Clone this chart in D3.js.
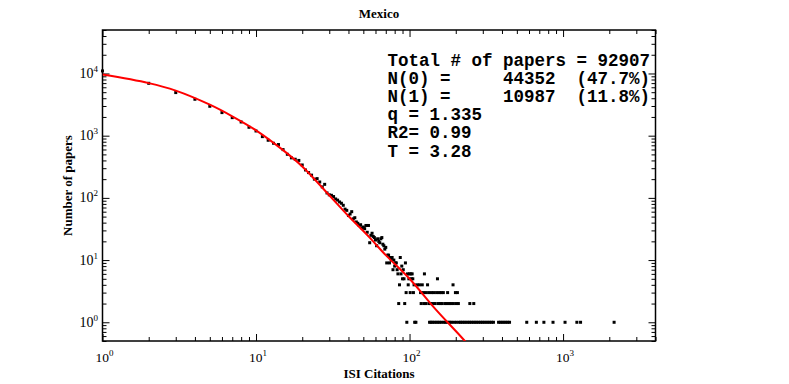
<!DOCTYPE html>
<html><head><meta charset="utf-8">
<script src="https://cdn.jsdelivr.net/npm/d3@7"></script>
<style>body{margin:0;background:#fff}</style>
</head><body>
<svg id="chart" width="789" height="384"></svg>
<script>
// ---- data ----
const title = "Mexico";
const xLabel = "ISI Citations";
const yLabel = "Number of papers";
const xTickExps = [0, 1, 2, 3];
const yTickExps = [0, 1, 2, 3, 4];

// citations 1..100 and number of papers for each
const headCitations = d3.range(1, 101);
const headPapers = [
  10987, 6950, 4930, 3850, 2970, 2350, 1950, 1660, 1365, 1190,
  966, 844, 755, 720, 597, 502, 440, 418, 400, 338,
  281, 255, 232, 200, 204, 180, 150, 165, 120, 112,
  110, 105, 96, 92, 86, 82, 76, 66, 63, 52,
  55, 60, 46, 48, 41, 39, 36, 37, 33, 34,
  32, 36, 28, 36, 19, 25, 27, 24, 23, 21,
  17, 22, 20, 19, 22, 23, 18, 17, 15, 16,
  9, 12, 12, 9, 11, 10, 11, 7, 10, 8,
  9, 9, 7, 6, 2, 4, 11, 6, 8, 5,
  7, 5, 2, 9, 3, 1, 6, 4, 5, 6
];

// tail (citations > 100): citation values per paper-count level
const tailLevels = [6, 5, 4, 3, 2, 1];
const tailCitations = [
  [102, 104, 125],
  [103, 105, 152],
  [107, 112, 116, 121, 131, 192],
  [101, 106, 118, 122, 127, 133, 139, 144, 150, 156, 161, 166, 177, 199, 205],
  [119, 124, 128, 134, 137, 142, 147, 154, 159, 163, 170, 175, 181, 186, 193, 201, 208, 247, 262],
  [108, 110, 135, 138, 141, 145, 149, 153, 157, 162, 168, 172, 178, 183, 188, 195, 202, 210, 215,
   221, 227, 233, 240, 246, 253, 260, 267, 274, 282, 290, 298, 306, 315, 324, 333, 342, 352,
   380, 390, 401, 412, 424, 436, 448, 580, 670, 750, 860, 1030, 1230, 1300, 2150]
];

// fitted curve
const fitCitations = [1, 2, 3, 5, 7, 10, 15, 20, 30, 40, 55, 70, 100, 150, 229, 260];
const fitPapers    = [9600, 7000, 5300, 3150, 2050, 1220, 585, 320, 110, 51, 23, 12, 5.0, 1.55, 0.5, 0.33];

const statsLines = [
  "Total # of papers = 92907",
  "N(0) =     44352  (47.7%)",
  "N(1) =     10987  (11.8%)",
  "q = 1.335",
  "R2= 0.99",
  "T = 3.28"
];

// ---- build ----
const points = headCitations.map((c, i) => ({c, n: headPapers[i]}));
tailLevels.forEach((lv, i) => tailCitations[i].forEach(c => points.push({c, n: lv})));
const fit = fitCitations.map((c, i) => ({c, n: fitPapers[i]}));

const L = 102.5, R = 655.5, T = 30, B = 341;
const svg = d3.select("#chart");
const x = d3.scaleLog().domain([1, 4000]).range([L, R]);
const y = d3.scaleLog().domain([0.5, 50000]).range([B, T]);

const isMajor = v => Math.abs(Math.log10(v) - Math.round(Math.log10(v))) < 1e-9;
const xMajor = xTickExps.map(e => Math.pow(10, e));
const yMajor = yTickExps.map(e => Math.pow(10, e));
const xMinor = x.ticks().filter(v => !isMajor(v));
const yMinor = y.ticks().filter(v => !isMajor(v));

function ax(gen, tr, vals, size) {
  svg.append("g").attr("transform", tr)
    .call(gen.tickValues(vals).tickSize(size).tickFormat(""))
    .call(g => g.select(".domain").remove())
    .call(g => g.selectAll("line").attr("stroke", "#000").attr("stroke-width", 1));
}
ax(d3.axisBottom(x), `translate(0,${B})`, xMajor, -7);
ax(d3.axisBottom(x), `translate(0,${B})`, xMinor, -4);
ax(d3.axisTop(x), `translate(0,${T})`, xMajor, -7);
ax(d3.axisTop(x), `translate(0,${T})`, xMinor, -4);
ax(d3.axisLeft(y), `translate(${L},0)`, yMajor, -7);
ax(d3.axisLeft(y), `translate(${L},0)`, yMinor, -4);
ax(d3.axisRight(y), `translate(${R},0)`, yMajor, -7);
ax(d3.axisRight(y), `translate(${R},0)`, yMinor, -4);

svg.append("rect").attr("x", L).attr("y", T).attr("width", R - L).attr("height", B - T)
  .attr("fill", "none").attr("stroke", "#000").attr("stroke-width", 1.5);

const serif = "'Liberation Serif','Times New Roman',serif";
// x tick labels
xTickExps.forEach((e, i) => {
  const t = svg.append("text").attr("x", x(xMajor[i]) - 7).attr("y", 362)
    .attr("font-family", serif).attr("font-size", 13.5).attr("fill", "#000");
  t.append("tspan").text("10");
  t.append("tspan").attr("dy", -6).attr("font-size", 9).text(e);
});
// y tick labels
yTickExps.forEach((e, i) => {
  const t = svg.append("text").attr("x", 79.5).attr("y", y(yMajor[i]) + 4.5)
    .attr("font-family", serif).attr("font-size", 14).attr("fill", "#000");
  t.append("tspan").text("10");
  t.append("tspan").attr("dy", -6).attr("font-size", 9).text(e);
});

svg.append("text").attr("x", 379).attr("y", 18).attr("text-anchor", "middle")
  .attr("font-family", serif).attr("font-weight", "bold").attr("font-size", 13).text(title);
svg.append("text").attr("x", 379).attr("y", 378).attr("text-anchor", "middle")
  .attr("font-family", serif).attr("font-weight", "bold").attr("font-size", 13).text(xLabel);
svg.append("text").attr("transform", "translate(72,185.5) rotate(-90)").attr("text-anchor", "middle")
  .attr("font-family", serif).attr("font-weight", "bold").attr("font-size", 13).text(yLabel);

// clip
svg.append("clipPath").attr("id", "clip").append("rect")
  .attr("x", L).attr("y", T).attr("width", R - L).attr("height", B - T);

// points
svg.append("g").selectAll("rect").data(points).join("rect")
  .attr("x", d => x(d.c) - 1.5).attr("y", d => y(d.n) - 1.5)
  .attr("width", 3).attr("height", 3).attr("fill", "#000");

// fit line
svg.append("path").datum(fit).attr("clip-path", "url(#clip)")
  .attr("d", d3.line().x(d => x(d.c)).y(d => y(d.n)).curve(d3.curveCatmullRom))
  .attr("fill", "none").attr("stroke", "#f00").attr("stroke-width", 2);

// stats text
svg.append("g").selectAll("text").data(statsLines).join("text")
  .attr("x", 387.4).attr("y", (d, i) => 66 + i * 18.1)
  .attr("font-family", "'Liberation Mono','Courier New',monospace")
  .attr("font-weight", "bold").attr("font-size", 17.5)
  .style("white-space", "pre").attr("xml:space", "preserve")
  .text(d => d);
</script>
</body></html>
